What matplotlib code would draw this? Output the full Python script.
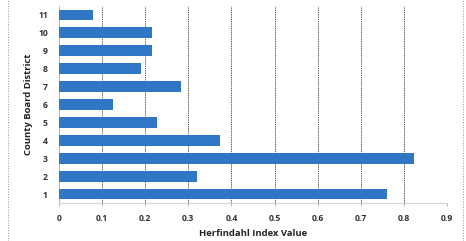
import matplotlib
matplotlib.use("Agg")
import matplotlib.pyplot as plt
from matplotlib.lines import Line2D

# data
districts = [1, 2, 3, 4, 5, 6, 7, 8, 9, 10, 11]
hhi = [0.761, 0.319, 0.823, 0.374, 0.228, 0.126, 0.284, 0.191, 0.215, 0.216, 0.079]
xticks = [0, 0.1, 0.2, 0.3, 0.4, 0.5, 0.6, 0.7, 0.8, 0.9]
xticklabels = ["0", "0.1", "0.2", "0.3", "0.4", "0.5", "0.6", "0.7", "0.8", "0.9"]

plt.rcParams['font.family'] = ['Open Sans', 'DejaVu Sans']

fig = plt.figure(figsize=(4.66, 2.41), dpi=100)
ax = fig.add_axes([59/466, 1 - 203/241, 388/466, 197/241])

ax.barh(districts, hhi, height=0.6, color='#2f76c4', zorder=3)

ax.set_xlim(0, 0.9)
ax.set_ylim(0.5, 11.5)
ax.set_xticks(xticks)
ax.set_xticklabels(xticklabels, fontsize=6.2, fontweight='bold', color='#333333')
ax.set_yticks(districts)
ax.set_yticklabels([str(d) for d in districts], fontsize=6.2, fontweight='bold', color='#333333')
ax.tick_params(axis='y', length=0, pad=8)
ax.tick_params(axis='x', length=2, color='#bbbbbb', pad=6)

ax.grid(axis='x', linestyle=(0, (1.5, 0.8)), color='#666666', linewidth=0.7, zorder=0)
for s in ['top', 'right']:
    ax.spines[s].set_visible(False)
ax.spines['left'].set_color('#bbbbbb')
ax.spines['bottom'].set_color('#cccccc')
ax.spines['left'].set_linewidth(0.6)
ax.spines['bottom'].set_linewidth(0.6)

ax.set_xlabel("Herfindahl Index Value", fontsize=6.8, fontweight='bold', color='#222222', labelpad=4)
ax.set_ylabel("County Board District", fontsize=6.8, fontweight='bold', color='#222222', labelpad=4)

# dotted chart border on the sides
fig.add_artist(Line2D([8/466, 8/466], [0, 1], color='#999999', linestyle=':', linewidth=0.7))
fig.add_artist(Line2D([463/466, 463/466], [0, 1], color='#999999', linestyle=':', linewidth=0.7))

fig.savefig("out.png", dpi=100)
